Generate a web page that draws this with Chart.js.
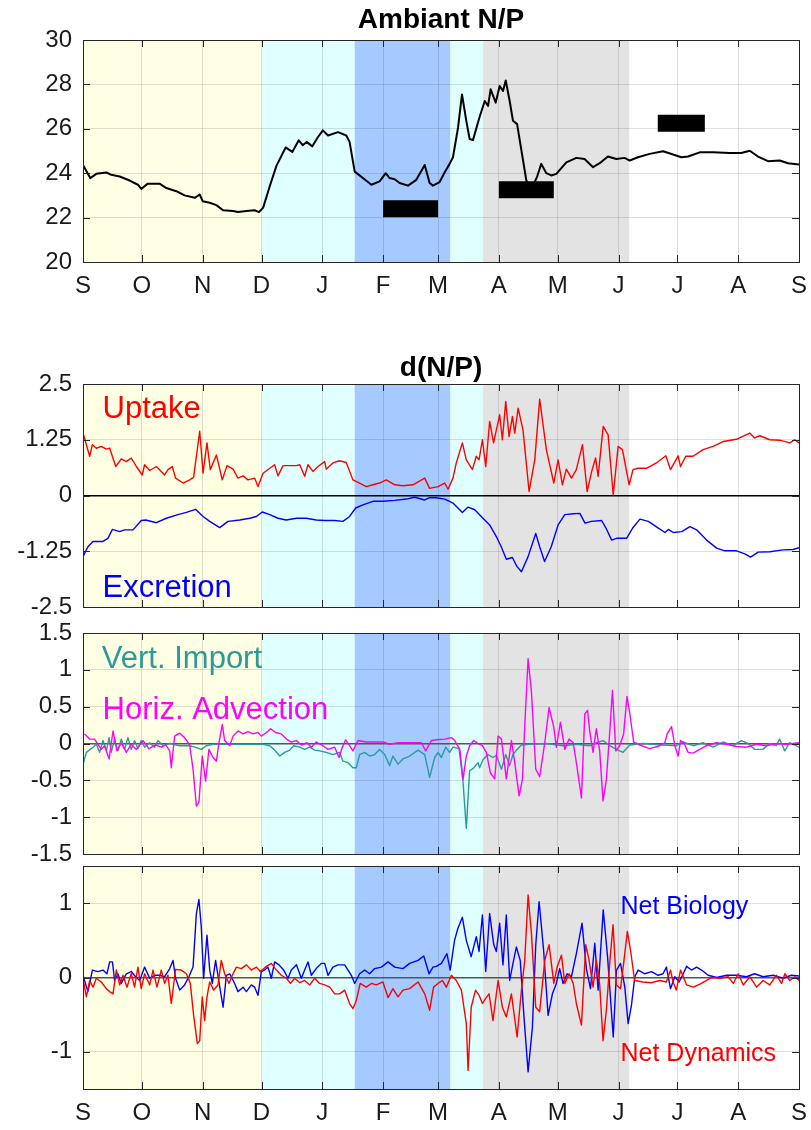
<!DOCTYPE html>
<html>
<head>
<meta charset="utf-8">
<title>Ambiant N/P</title>
<script src="https://cdn.jsdelivr.net/npm/chart.js@4.4.1/dist/chart.umd.min.js"></script>
<style>
  body { margin: 0; background: #fff; width: 811px; height: 1130px; position: relative; overflow: hidden; }
  canvas { position: absolute; left: 0; }
</style>
</head>
<body>
<canvas id="npChart" width="811" height="300" style="top:0px"></canvas>
<canvas id="bioChart" width="811" height="277" style="top:344px"></canvas>
<canvas id="physChart" width="811" height="251" style="top:617px"></canvas>
<canvas id="netChart" width="811" height="278" style="top:852px"></canvas>
<script>
"use strict";

// x axis: days since 1 Sep
const monthDays = [0, 30, 61, 91, 122, 153, 181, 212, 242, 273, 303, 334, 365];
const monthLabels = ["S", "O", "N", "D", "J", "F", "M", "A", "M", "J", "J", "A", "S"];

// shaded periods (days)
const bandStart = [0, 91, 138.5, 187.3, 203.9];
const bandEnd = [91, 138.5, 187.3, 203.9, 278.4];
const bandColors = ["#ffffe3", "#e0ffff", "#a4caff", "#e0ffff", "#e3e3e3"];

const npTicks = [20, 22, 24, 26, 28, 30];
const dnpTicks = [-2.5, -1.25, 0, 1.25, 2.5];
const fluxTicks = [-1.5, -1, -0.5, 0, 0.5, 1, 1.5];
const netTicks = [-1, 0, 1];

// black reference bars on the N/P panel
const barStart = [153, 212, 293];
const barEnd = [181, 240, 317];
const barLevel = [22.4, 23.25, 26.25];

const ambiantNP = [[0,24.37],[3.7,23.78],[6.8,23.97],[11.9,24.03],[14.4,23.93],[18.7,23.85],[23.8,23.67],[28,23.48],[29.7,23.29],[33,23.53],[39,23.53],[42.5,23.33],[47.6,23.19],[51.8,23.0],[57,22.89],[59.5,23.04],[61,22.74],[64.6,22.67],[68,22.56],[71.4,22.33],[76.5,22.3],[79,22.25],[83.3,22.3],[87.5,22.33],[89.7,22.25],[91.8,22.44],[95.2,23.41],[98.6,24.33],[103.3,25.16],[106.7,24.96],[110,25.48],[112,25.26],[114,25.41],[116.9,25.21],[119.8,25.63],[122.3,25.93],[124.9,25.7],[130,25.85],[134.2,25.7],[135.9,25.41],[138.5,24.07],[142.7,23.78],[147,23.48],[151.2,23.63],[154.3,24.0],[156.3,23.78],[158.9,23.73],[161.4,23.56],[165.7,23.44],[169.9,23.7],[174.2,24.37],[176.7,23.56],[178.4,23.44],[181.8,23.6],[184.4,24.04],[186.9,24.42],[188.6,24.72],[191.2,26.06],[193.2,27.55],[195.4,26.36],[197.1,25.54],[198.8,25.49],[202.2,26.54],[204.8,27.25],[206.5,27.03],[207.8,27.78],[210.4,27.18],[212.4,27.93],[214.1,27.7],[215.5,28.18],[217.5,27.25],[219.2,26.36],[221.3,26.21],[226,23.67],[228.6,23.3],[231.4,23.82],[233.6,24.42],[236.2,24.0],[238.7,23.9],[241.3,23.97],[246.4,24.49],[251.5,24.69],[255.7,24.64],[260,24.27],[263.4,24.45],[267.6,24.75],[271.9,24.64],[276.1,24.69],[278.7,24.57],[282.9,24.72],[288.9,24.87],[295.7,24.99],[300.8,24.84],[305,24.72],[308.4,24.75],[314.4,24.94],[321.2,24.94],[329.7,24.91],[335.6,24.91],[339.9,25.01],[344.1,24.75],[349.2,24.54],[355.2,24.57],[359.4,24.45],[365,24.39]];

const uptake = [[0,1.4],[3.4,0.88],[4.8,1.14],[6.8,1.06],[9.3,1.1],[11.9,1.04],[13.6,1.06],[16.7,0.65],[19.5,0.82],[22.1,0.76],[24.6,0.84],[27.2,0.65],[30.2,0.46],[31.4,0.69],[34,0.56],[37.4,0.65],[41.6,0.46],[43.3,0.58],[45.5,0.65],[47.2,0.39],[51,0.28],[54.4,0.35],[56.4,0.41],[59.5,1.44],[61.2,0.5],[63.2,1.18],[64.9,0.58],[68,0.91],[71,0.35],[73.4,0.67],[76.5,0.59],[79,0.39],[81.6,0.44],[84.1,0.35],[87.5,0.39],[89.2,0.2],[91.8,0.5],[95.2,0.61],[97.7,0.69],[99.4,0.44],[102,0.67],[105.4,0.67],[108.8,0.67],[110.5,0.69],[113,0.43],[114.7,0.69],[117.2,0.54],[119.8,0.65],[123.2,0.76],[124,0.59],[127.4,0.73],[130.8,0.78],[134.2,0.74],[137.6,0.35],[141,0.28],[144.4,0.2],[147.8,0.24],[151.2,0.28],[154.6,0.35],[158.9,0.24],[163.1,0.22],[168.2,0.24],[174.2,0.39],[176.7,0.16],[181,0.2],[184.4,0.28],[186.1,0.14],[188.6,0.39],[190.3,0.73],[193.4,1.18],[195.4,0.8],[198.5,0.58],[200.5,0.88],[201.9,0.8],[203.6,1.25],[205.3,0.65],[207.3,1.66],[209.3,1.18],[212.4,1.81],[213.8,1.25],[215.5,2.11],[217.2,1.32],[218.9,1.77],[220.1,1.4],[221.8,1.96],[224.3,1.47],[227.4,0.09],[230.3,0.8],[232.8,2.16],[236.2,1.03],[240,0.28],[242.2,0.8],[244.4,0.24],[246.4,0.59],[249,0.39],[251.5,0.58],[254.6,1.14],[257,0.09],[259.2,0.52],[261.3,0.84],[262.6,0.43],[265.2,1.55],[267.7,1.36],[270.3,0.01],[272.8,1.1],[275,1.03],[278.4,0.24],[280.4,0.58],[283,0.61],[287.2,0.61],[292.3,0.73],[297.1,0.89],[299.5,0.58],[303.4,0.89],[304.6,0.65],[307.3,0.88],[311,0.88],[316.1,1.03],[321.2,1.1],[326.3,1.21],[333.1,1.26],[339.9,1.4],[342.4,1.29],[345,1.34],[350.1,1.25],[355.2,1.24],[360.3,1.18],[362.8,1.25],[365,1.18]];

const excretion = [[0,-1.37],[2.5,-1.15],[5.1,-1.03],[10.2,-1.03],[12.7,-0.96],[15,-0.76],[18.7,-0.81],[21.2,-0.77],[25.5,-0.77],[29.7,-0.56],[32,-0.55],[37.4,-0.61],[42.5,-0.51],[48.4,-0.43],[52.7,-0.38],[57.4,-0.31],[61.2,-0.47],[64.6,-0.58],[69.7,-0.72],[73.9,-0.58],[79.9,-0.55],[85,-0.51],[88.4,-0.47],[91.4,-0.37],[95.2,-0.43],[99.4,-0.51],[103.6,-0.55],[108.8,-0.51],[113.8,-0.51],[118.9,-0.55],[123.2,-0.56],[128.3,-0.56],[132.5,-0.58],[135.9,-0.47],[139,-0.28],[142.7,-0.21],[147.8,-0.13],[152.9,-0.13],[158.9,-0.11],[164.8,-0.08],[169.1,-0.04],[174.2,-0.1],[176.7,-0.05],[180.1,-0.05],[184.4,-0.08],[188.6,-0.17],[193.4,-0.38],[196.3,-0.26],[199.7,-0.32],[203.9,-0.51],[207.3,-0.66],[210.7,-0.92],[213.2,-1.15],[215.8,-1.43],[218.9,-1.39],[221.2,-1.59],[223.5,-1.71],[226.9,-1.37],[230.8,-0.85],[232.8,-1.15],[235.3,-1.48],[238.7,-1.15],[242.2,-0.66],[245.6,-0.43],[249.9,-0.41],[253.3,-0.4],[255.9,-0.62],[259.2,-0.58],[264.4,-0.56],[266.6,-0.73],[269.5,-1.0],[272,-0.96],[277.1,-0.96],[280.2,-0.73],[283.9,-0.53],[288.2,-0.58],[293.3,-0.73],[296.7,-0.83],[298.4,-0.76],[300.9,-0.83],[305.2,-0.81],[309.4,-0.7],[312.8,-0.77],[317.9,-1.0],[323,-1.18],[327.2,-1.24],[333.1,-1.24],[337.4,-1.31],[340.3,-1.38],[344.2,-1.27],[350.1,-1.26],[356.9,-1.22],[362,-1.21],[365,-1.17]];

const vertImport = [[0.3,-0.26],[1.7,-0.12],[4.2,-0.07],[6.8,-0.01],[8.5,-0.12],[10.2,0.04],[11.9,-0.1],[13.3,0.08],[14.4,-0.12],[16.1,0.06],[17.8,-0.1],[19.5,0.06],[21.2,-0.08],[22.9,0.08],[24.6,-0.08],[26.3,0.04],[28,-0.07],[29.7,0.04],[31.4,-0.05],[34,0.01],[36.5,-0.05],[38.2,0.04],[40.8,-0.03],[44.2,0.0],[49.3,-0.03],[54.4,-0.03],[57,-0.05],[60.3,-0.08],[62.9,-0.03],[66.3,-0.01],[71.4,-0.01],[78.2,-0.01],[85,-0.01],[91.8,-0.01],[95.2,-0.03],[97.7,-0.09],[100.3,-0.17],[102.8,-0.12],[105.4,-0.09],[107.4,-0.03],[110.5,-0.05],[113,-0.08],[115.5,-0.05],[118.1,-0.09],[120.6,-0.1],[124,-0.12],[127.4,-0.15],[130.8,-0.12],[132.5,-0.24],[135.1,-0.26],[137.6,-0.33],[139.3,-0.33],[141,-0.15],[143.6,-0.12],[146.1,-0.17],[148.7,-0.15],[151.2,-0.08],[153.8,-0.15],[156.3,-0.3],[158,-0.17],[160.6,-0.28],[163.1,-0.21],[166.5,-0.17],[170.8,-0.09],[174.2,-0.15],[176.7,-0.46],[179.3,-0.19],[181,-0.12],[182.7,-0.19],[184.9,-0.05],[186.9,-0.12],[188.6,-0.05],[191.7,-0.07],[193.7,-0.51],[195.4,-1.15],[197.1,-0.37],[199.2,-0.33],[201.4,-0.26],[202.2,-0.33],[203.9,-0.22],[206.4,-0.15],[209,-0.19],[210.7,-0.16],[213.3,-0.35],[215.5,-0.15],[217.5,-0.3],[219.2,-0.15],[221.3,-0.08],[223.5,-0.02],[227.7,-0.01],[236.2,0.0],[244.7,-0.03],[251.5,-0.01],[258.3,-0.03],[261.7,0.01],[265.1,0.04],[268.5,-0.03],[271.9,-0.08],[275.3,-0.12],[278.7,-0.02],[285.5,0.0],[295.7,-0.02],[302.5,-0.03],[305.9,0.02],[311,-0.03],[316.1,0.01],[321.2,-0.05],[326.3,0.02],[331.4,-0.03],[335.6,0.04],[339,0.0],[342.4,-0.08],[346.6,-0.08],[350,0.0],[353.4,-0.03],[355.1,0.06],[357.7,-0.1],[360.2,0.01],[362.8,-0.02],[365,-0.05]];

const horizAdvection = [[0.8,0.13],[3.4,0.06],[5.9,0.06],[9.3,-0.08],[11,-0.03],[13.3,-0.21],[15.3,0.17],[17.3,-0.1],[19.5,0.01],[22.1,-0.12],[24.6,-0.01],[27.2,-0.08],[30.6,0.04],[33.6,-0.07],[37,-0.02],[40,-0.05],[42.2,-0.02],[44.2,-0.1],[45,-0.33],[46.7,0.1],[49.3,0.14],[51.8,0.08],[54.4,-0.02],[56.1,-0.35],[57.8,-0.85],[59.1,-0.8],[60.8,-0.17],[62.5,-0.51],[64.2,-0.08],[66.3,-0.19],[68,-0.24],[69.3,0.01],[71,0.26],[72.2,0.04],[74.8,-0.03],[76.5,0.1],[79,0.17],[81.6,0.13],[84.1,0.16],[86.7,0.13],[89.2,0.15],[90.9,0.1],[93.5,0.15],[95.7,0.2],[98.2,0.15],[101.1,0.13],[103.7,0.06],[106.2,0.02],[108.8,0.04],[111.3,-0.02],[114.2,0.01],[116.4,-0.05],[118.9,0.02],[122.3,-0.03],[124.9,-0.08],[128.3,-0.05],[130.5,-0.19],[132.2,-0.05],[133.9,0.05],[135.9,-0.03],[137.6,-0.1],[140.2,0.04],[144.4,0.02],[149.5,0.02],[152.9,0.02],[156.3,-0.01],[160.6,0.01],[164.8,0.01],[169.9,0.01],[172.5,0.01],[174.7,-0.1],[177.6,0.04],[180.1,0.05],[184.4,0.06],[187.8,0.08],[189.5,0.04],[192.1,-0.08],[193.7,-0.49],[195.4,-0.17],[197.1,-0.03],[199.2,0.04],[201.4,0.0],[203.6,-0.03],[205.6,-0.12],[207.7,-0.4],[209.9,-0.48],[211.6,0.1],[213.3,0.06],[215.8,-0.48],[218.4,0.04],[220.1,-0.26],[222.3,-0.71],[224,-0.49],[225.2,0.24],[226.9,1.15],[228.6,0.7],[230.8,-0.35],[232.8,-0.45],[235.4,0.01],[237.6,0.49],[240,0.22],[241.3,-0.05],[243.4,0.29],[245.6,-0.08],[247.8,0.06],[249.9,0.01],[251.5,-0.26],[254.1,-0.74],[255.8,0.4],[257.2,0.45],[258.4,0.15],[260,-0.12],[261.7,0.2],[263.4,-0.1],[265.1,-0.78],[266.8,-0.49],[268.5,0.15],[269.9,0.72],[271.6,-0.1],[273.6,-0.03],[275.6,0.13],[277.3,0.64],[278.7,0.42],[280.7,0.02],[283.8,-0.02],[288.9,-0.07],[294,-0.03],[296.6,0.01],[297.8,0.13],[300,0.23],[301.7,-0.03],[303.4,-0.17],[304.6,0.04],[306.3,0.01],[308.5,-0.12],[311,-0.13],[314.4,-0.08],[317.8,-0.03],[322.9,0.01],[328,-0.01],[333.1,-0.04],[338.2,-0.05],[343.3,-0.01],[348.4,-0.03],[353.5,0.0],[358.6,-0.01],[365,0.01]];

const netBiology = [[0,0.03],[2.5,-0.19],[4.8,0.1],[7.6,0.08],[10.2,0.1],[12.2,0.05],[13.6,0.21],[15,0.21],[16.1,-0.04],[17.8,0.05],[19.5,-0.08],[22.1,0.05],[24.6,0.08],[26.8,0.01],[28.9,-0.04],[31.4,0.14],[34,-0.01],[36.5,0.03],[39.1,0.03],[41.6,0.01],[44.2,0.12],[45.9,0.23],[47.2,-0.01],[49.3,-0.17],[51.8,-0.1],[54,0.01],[56.1,0.14],[57.8,0.86],[59.1,1.05],[60.3,0.68],[61.5,-0.01],[63.2,0.57],[64.6,0.1],[65.9,-0.08],[67.6,0.23],[69.3,-0.06],[71.4,-0.4],[73.1,0.03],[74.8,0.05],[77.3,-0.08],[79,-0.19],[81.6,-0.13],[83.3,-0.19],[85.8,-0.1],[87.5,-0.13],[89.2,-0.24],[90.9,0.08],[92.6,0.1],[94.3,0.14],[96,-0.01],[97.7,0.21],[99.9,0.17],[102.3,0.1],[104.5,-0.01],[106.2,0.1],[108.8,0.17],[111.3,-0.01],[113,0.1],[114.7,0.21],[116.4,0.03],[118.9,0.12],[121.5,0.19],[123.2,0.19],[124.9,0.03],[127.4,0.14],[130,0.17],[133.4,0.17],[136.8,0.03],[138.5,-0.08],[141,0.05],[143.6,0.1],[146.1,0.05],[148.7,0.12],[152.1,0.14],[155.5,0.21],[158.9,0.14],[163.1,0.12],[166.5,0.19],[170.8,0.23],[173.7,0.29],[176.4,0.05],[178.4,0.14],[180.1,0.15],[182.7,0.19],[185.5,0.32],[187.2,0.1],[189.4,0.5],[191.1,0.66],[193.4,0.81],[195.4,0.5],[197.9,0.28],[200.5,0.55],[201.9,0.35],[203.6,0.84],[205.3,0.08],[207.3,0.86],[209.4,0.44],[210.7,0.35],[212.4,0.73],[214.1,0.17],[215.8,0.84],[217.5,-0.04],[219.2,0.19],[220.9,0.41],[222.9,0.23],[224.8,-0.53],[226.9,-1.27],[229.1,-0.67],[230.8,0.44],[232.5,1.02],[234.8,0.37],[237.1,-0.51],[239.3,-0.22],[241.3,-0.08],[243,0.12],[244.7,-0.08],[246.8,0.05],[249,0.01],[251.5,0.32],[254.4,0.73],[256.6,0.12],[258.7,-0.15],[260.9,0.46],[262.6,-0.17],[265.2,0.91],[267.4,0.28],[270.3,-0.8],[272,0.1],[274,0.19],[276.2,-0.13],[277.9,-0.62],[279.6,-0.37],[281.3,0.01],[283,0.1],[286.4,0.05],[289.8,0.08],[293.2,0.03],[295.7,0.05],[297.4,0.14],[299.5,-0.15],[301.7,0.01],[303.9,-0.06],[306,0.05],[307.7,0.15],[310.2,0.1],[312.8,0.14],[315.3,0.1],[318.7,0.03],[323,0.0],[328.1,0.03],[333.1,0.03],[338.2,0.01],[342.4,0.05],[346.7,0.01],[351.8,0.03],[356.9,-0.01],[361.1,0.03],[365,0.02]];

const netDynamics = [[0,-0.01],[1.7,-0.26],[3.4,-0.04],[5.1,-0.13],[6.8,-0.01],[9.3,-0.06],[11.9,-0.15],[13.6,-0.19],[15.3,-0.22],[17,0.1],[18.7,-0.1],[20.4,0.03],[22.4,-0.13],[24.6,0.05],[26.3,-0.13],[28,0.14],[29.7,-0.15],[31.4,0.05],[34,-0.1],[35.7,0.1],[37.7,-0.13],[39.9,0.1],[41.6,-0.08],[43.3,0.03],[45,-0.35],[47.2,0.11],[50.1,0.1],[52.7,0.05],[54.7,-0.08],[56.4,-0.51],[58.3,-0.89],[59.5,-0.85],[60.8,-0.26],[62,-0.58],[63.2,-0.26],[64.6,-0.06],[66.6,-0.17],[68.8,-0.1],[70.5,0.23],[72.2,0.05],[74.4,-0.08],[76.1,0.03],[78.2,0.14],[80.7,0.12],[83.3,0.17],[85.8,0.1],[88.4,0.14],[90.4,0.08],[93.5,0.15],[96,0.19],[98.6,0.1],[101.1,0.03],[103.7,-0.01],[105.7,-0.08],[107.9,-0.01],[110.5,-0.07],[113,-0.04],[115.6,-0.1],[118.1,-0.01],[120.6,-0.08],[123.2,-0.1],[125.8,-0.13],[128.3,-0.22],[130.8,-0.22],[133.4,-0.17],[135.9,-0.35],[137.6,-0.42],[139.3,-0.31],[141.3,-0.08],[144.4,-0.13],[147,-0.08],[149.5,-0.1],[152.9,-0.06],[155.5,-0.27],[158,-0.15],[160.6,-0.26],[163.1,-0.17],[166.5,-0.15],[170.8,-0.06],[174.2,-0.22],[176.7,-0.44],[178.7,-0.13],[181,-0.08],[183.2,-0.04],[185.2,-0.13],[187.8,0.03],[190.3,-0.04],[192.9,-0.17],[195.4,-0.62],[196.3,-1.25],[197.9,-0.4],[200.1,-0.17],[201.9,-0.24],[203.6,-0.35],[205.3,-0.28],[207,-0.22],[209,-0.58],[211.6,-0.04],[213.8,-0.4],[215.8,-0.53],[218.4,-0.22],[221.3,-0.8],[223.5,-0.17],[225.2,0.23],[226.9,1.11],[228.6,0.59],[230.8,-0.4],[232.8,-0.46],[235.4,0.23],[237.6,0.44],[240,-0.08],[241.7,0.14],[243.9,0.3],[245.6,-0.08],[247.8,0.05],[249.9,-0.08],[251.5,-0.35],[254.1,-0.64],[256.3,0.44],[258,0.23],[260,-0.13],[261.7,0.23],[263.4,-0.1],[265.1,-0.85],[266.8,-0.44],[268.5,0.19],[270.2,0.71],[271.9,-0.1],[274,-0.15],[275.6,0.19],[277.5,0.62],[279.2,0.35],[281.2,-0.04],[285.5,-0.06],[289.7,-0.07],[294,-0.04],[297.4,-0.06],[299.5,0.1],[300.8,-0.06],[302.5,-0.17],[304.6,0.1],[307.7,-0.1],[311.1,-0.13],[314.5,-0.09],[317.9,-0.04],[320.4,0.0],[324.7,-0.01],[328.9,0.01],[331.5,-0.08],[334,0.05],[336.6,-0.1],[340,0.01],[343.4,-0.13],[346.7,-0.04],[350.1,-0.1],[353.5,0.03],[356.1,-0.08],[357.8,0.05],[360.3,-0.04],[362.9,0.01],[365,-0.04]];

const FONT = '"Liberation Sans", Arial, Helvetica, sans-serif';
const GRID = "rgba(38,38,38,0.15)";
const INK = "#262626";
const TEAL = "#2c9a98";

Chart.defaults.font.family = FONT;
Chart.defaults.color = "#1a1a1a";

const toPoints = (pairs) => pairs.map(([x, y]) => ({ x, y }));

const bandsPlugin = {
  id: "bands",
  beforeDraw(chart) {
    const { ctx, chartArea: a, scales: { x } } = chart;
    ctx.save();
    bandStart.forEach((s, i) => {
      const x0 = x.getPixelForValue(s);
      const x1 = x.getPixelForValue(bandEnd[i]);
      ctx.fillStyle = bandColors[i];
      ctx.fillRect(x0, a.top, x1 - x0, a.bottom - a.top);
    });
    ctx.restore();
  }
};

// box round the plot and inward tick marks, matlab style
const framePlugin = {
  id: "frame",
  afterDraw(chart) {
    const { ctx, chartArea: a, scales: { x, y } } = chart;
    const len = 7;
    ctx.save();
    ctx.strokeStyle = INK;
    ctx.lineWidth = 1;
    ctx.beginPath();
    x.ticks.forEach((t) => {
      const px = Math.round(x.getPixelForValue(t.value)) + 0.5;
      ctx.moveTo(px, a.bottom); ctx.lineTo(px, a.bottom - len);
      ctx.moveTo(px, a.top); ctx.lineTo(px, a.top + len);
    });
    y.ticks.forEach((t) => {
      const py = Math.round(y.getPixelForValue(t.value)) + 0.5;
      ctx.moveTo(a.left, py); ctx.lineTo(a.left + len, py);
      ctx.moveTo(a.right, py); ctx.lineTo(a.right - len, py);
    });
    ctx.stroke();
    ctx.strokeRect(Math.round(a.left) + 0.5, Math.round(a.top) + 0.5,
      Math.round(a.right - a.left), Math.round(a.bottom - a.top));
    ctx.restore();
  }
};

function notesPlugin(items) {
  return {
    id: "notes",
    afterDatasetsDraw(chart) {
      const { ctx, scales: { x, y } } = chart;
      ctx.save();
      ctx.textAlign = "left";
      ctx.textBaseline = "alphabetic";
      items.forEach((n) => {
        ctx.font = `${n.size}px ${FONT}`;
        ctx.fillStyle = n.color;
        ctx.fillText(n.text, x.getPixelForValue(n.day), y.getPixelForValue(n.level));
      });
      ctx.restore();
    }
  };
}

function xScale(showLabels, height) {
  return {
    type: "linear",
    min: 0,
    max: 365,
    afterBuildTicks: (s) => { s.ticks = monthDays.map((v) => ({ value: v })); },
    afterFit: (s) => {
      s.height = height;
      // keep the plot box the same width in every panel
      s.paddingLeft = 0;
      s.paddingRight = 0;
    },
    grid: { color: GRID, drawTicks: false },
    border: { display: false },
    ticks: {
      display: showLabels,
      autoSkip: false,
      maxRotation: 0,
      padding: 10,
      font: { size: 24 },
      callback: (v, i) => monthLabels[i]
    }
  };
}

function yScale(tickValues, min, max, zeroColor) {
  const isZero = (c) => zeroColor && c.tick && c.tick.value === 0;
  return {
    type: "linear",
    min,
    max,
    afterBuildTicks: (s) => { s.ticks = tickValues.map((v) => ({ value: v })); },
    afterFit: (s) => {
      s.width = 83;
      // plot box height is set by the canvas layout, not the labels
      s.paddingTop = 0;
      s.paddingBottom = 0;
    },
    grid: {
      drawTicks: false,
      color: (c) => (isZero(c) ? zeroColor : GRID),
      lineWidth: (c) => (isZero(c) ? 1.5 : 1)
    },
    border: { display: false },
    ticks: { padding: 11, font: { size: 24, lineHeight: 1 }, callback: (v) => String(v) }
  };
}

function line(pairs, color, width, order) {
  return {
    data: toPoints(pairs),
    borderColor: color,
    borderWidth: width,
    pointRadius: 0,
    tension: 0,
    borderJoinStyle: "round",
    order
  };
}

function baseOptions(scales, title, padTop) {
  return {
    responsive: false,
    animation: false,
    events: [],
    layout: { padding: { left: 0, right: 12, top: padTop, bottom: 0 } },
    scales,
    plugins: {
      legend: { display: false },
      tooltip: { enabled: false },
      title: title
        ? {
            display: true,
            text: title.text,
            fullSize: false,
            color: "#000",
            font: { size: 28, weight: "bold", lineHeight: 1 },
            padding: title.padding
          }
        : { display: false }
    }
  };
}

function buildCharts() {
  const bars = barStart.map((s, i) => ({
    data: [{ x: s, y: barLevel[i] }, { x: barEnd[i], y: barLevel[i] }],
    borderColor: "#000",
    borderWidth: 17,
    borderCapStyle: "butt",
    pointRadius: 0,
    order: 0
  }));

  new Chart(document.getElementById("npChart"), {
    type: "line",
    data: { datasets: [line(ambiantNP, "#000", 2, 1), ...bars] },
    options: baseOptions(
      { x: xScale(true, 38), y: yScale(npTicks, 20, 30) },
      { text: "Ambiant N/P", padding: { top: 6, bottom: 6 } },
      0
    ),
    plugins: [bandsPlugin, framePlugin]
  });

  new Chart(document.getElementById("bioChart"), {
    type: "line",
    data: { datasets: [line(uptake, "#ff0000", 1.4, 1), line(excretion, "#0000ff", 1.4, 2)] },
    options: baseOptions(
      { x: xScale(false, 14), y: yScale(dnpTicks, -2.5, 2.5, "#000") },
      { text: "d(N/P)", padding: { top: 10, bottom: 2 } },
      0
    ),
    plugins: [bandsPlugin, framePlugin, notesPlugin([
      { text: "Uptake", day: 10, level: 1.74, color: "#ff0000", size: 31 },
      { text: "Excretion", day: 10, level: -2.27, color: "#0000ff", size: 31 }
    ])]
  });

  new Chart(document.getElementById("physChart"), {
    type: "line",
    data: { datasets: [line(horizAdvection, "#ff00ff", 1.4, 1), line(vertImport, TEAL, 1.4, 2)] },
    options: baseOptions(
      { x: xScale(false, 14), y: yScale(fluxTicks, -1.5, 1.5, "#555") },
      null,
      16
    ),
    plugins: [bandsPlugin, framePlugin, notesPlugin([
      { text: "Vert. Import", day: 9.6, level: 1.02, color: TEAL, size: 31 },
      { text: "Horiz. Advection", day: 10, level: 0.33, color: "#ff00ff", size: 31 }
    ])]
  });

  new Chart(document.getElementById("netChart"), {
    type: "line",
    data: { datasets: [line(netDynamics, "#ff0000", 1.4, 1), line(netBiology, "#0000ff", 1.4, 2)] },
    options: baseOptions(
      { x: xScale(true, 41), y: yScale(netTicks, -1.5, 1.5, "#555") },
      null,
      14
    ),
    plugins: [bandsPlugin, framePlugin, notesPlugin([
      { text: "Net Biology", day: 274, level: 0.86, color: "#0000ff", size: 25 },
      { text: "Net Dynamics", day: 274, level: -1.13, color: "#ff0000", size: 25 }
    ])]
  });
}

window.addEventListener("load", buildCharts);
</script>
</body>
</html>
